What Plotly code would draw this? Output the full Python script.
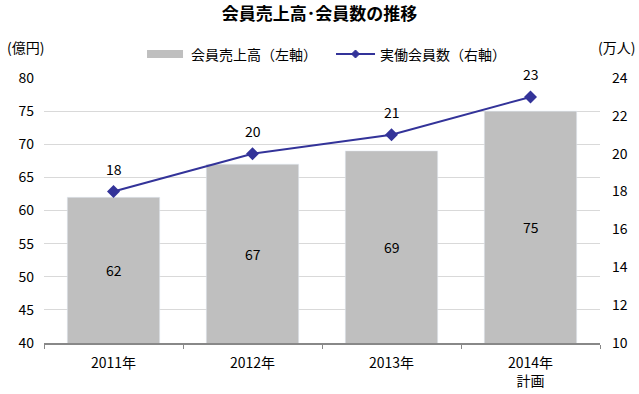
import plotly.graph_objects as go

categories = ["2011年", "2012年", "2013年", "2014年<br>計画"]
sales = [62, 67, 69, 75]
members = [18, 20, 21, 23]
left_ticks = [40, 45, 50, 55, 60, 65, 70, 75, 80]
right_ticks = [10, 12, 14, 16, 18, 20, 22, 24]
sales_name = "会員売上高（左軸）"
members_name = "実働会員数（右軸）"

FONT = "Noto Sans CJK JP"
NUMFONT = "Liberation Sans Narrow, Noto Sans CJK JP"
BAR_COLOR = "#BFBFBF"
LINE_COLOR = "#333399"

fig = go.Figure()
fig.add_trace(go.Bar(
    x=categories, y=sales, name=sales_name,
    marker=dict(color=BAR_COLOR), yaxis="y", showlegend=False,
))
fig.add_trace(go.Scatter(
    x=categories, y=members, name=members_name,
    mode="lines+markers",
    line=dict(color=LINE_COLOR, width=2),
    marker=dict(symbol="diamond", size=10, color=LINE_COLOR),
    yaxis="y2", showlegend=False,
))

ann = []
base = left_ticks[0]
for c, v in zip(categories, sales):
    ann.append(dict(x=c, y=(base + v) / 2, xref="x", yref="y", text=str(v),
                    showarrow=False, font=dict(family=NUMFONT, size=14, color="black")))
for c, v in zip(categories, members):
    ann.append(dict(x=c, y=v, xref="x", yref="y2", text=str(v), yshift=23,
                    showarrow=False, font=dict(family=NUMFONT, size=14, color="black")))
# unit labels
ann.append(dict(text="(億円)", x=-0.034, xref="paper", xanchor="center", y=1.117,
                yref="paper", yanchor="middle", showarrow=False, font=dict(size=14)))
ann.append(dict(text="(万人)", x=1.03, xref="paper", xanchor="center", y=1.117,
                yref="paper", yanchor="middle", showarrow=False, font=dict(size=14)))
# legend texts
LEG_Y = 1.0906
ann.append(dict(text=sales_name, x=0.2608, xref="paper", xanchor="left", y=LEG_Y,
                yref="paper", yanchor="middle", showarrow=False, font=dict(size=14)))
ann.append(dict(text=members_name, x=0.6007, xref="paper", xanchor="left", y=LEG_Y,
                yref="paper", yanchor="middle", showarrow=False, font=dict(size=14)))

shapes = [
    dict(type="rect", xref="paper", yref="paper", xsizemode="pixel", ysizemode="pixel",
         xanchor=0.1853, yanchor=LEG_Y, x0=0, x1=36, y0=-4, y1=4,
         fillcolor=BAR_COLOR, line=dict(width=0)),
    dict(type="line", xref="paper", yref="paper", xsizemode="pixel", ysizemode="pixel",
         xanchor=0.5252, yanchor=LEG_Y, x0=0, x1=39, y0=0, y1=0,
         line=dict(color=LINE_COLOR, width=2)),
    dict(type="path", xref="paper", yref="paper", xsizemode="pixel", ysizemode="pixel",
         xanchor=0.5252, yanchor=LEG_Y,
         path="M 15.5 0 L 19.5 4 L 23.5 0 L 19.5 -4 Z",
         fillcolor=LINE_COLOR, line=dict(color=LINE_COLOR, width=1)),
]

fig.update_layout(
    width=639, height=394,
    margin=dict(l=44, r=39, t=78, b=51),
    paper_bgcolor="white", plot_bgcolor="white",
    font=dict(family=FONT, size=14, color="black"),
    bargap=0.335,
    showlegend=False,
    title=dict(text="<b>会員売上高･会員数の推移</b>", x=0.5, xanchor="center",
               y=1 - 14 / 394, yanchor="middle", font=dict(size=17)),
    xaxis=dict(showline=True, linecolor="#888888", linewidth=1.5,
               ticks="outside", tickcolor="#888888", ticklen=4,
               tickson="boundaries", showgrid=False, automargin=False,
               ticklabelstandoff=6,
               tickfont=dict(size=14, family=FONT)),
    yaxis=dict(range=[40, 80], tickvals=left_ticks, showgrid=True,
               gridcolor="#D9D9D9", zeroline=False, ticks="", automargin=False,
               ticklabelstandoff=9,
               tickfont=dict(size=14, family=NUMFONT)),
    yaxis2=dict(range=[10, 24], tickvals=right_ticks, overlaying="y", side="right",
                showgrid=False, zeroline=False, ticks="", automargin=False,
                ticklabelstandoff=11,
                tickfont=dict(size=14, family=NUMFONT)),
    annotations=ann,
    shapes=shapes,
)
fig.write_html("out.html", post_script="document.body.style.margin='0';",
               config={"displayModeBar": False})
